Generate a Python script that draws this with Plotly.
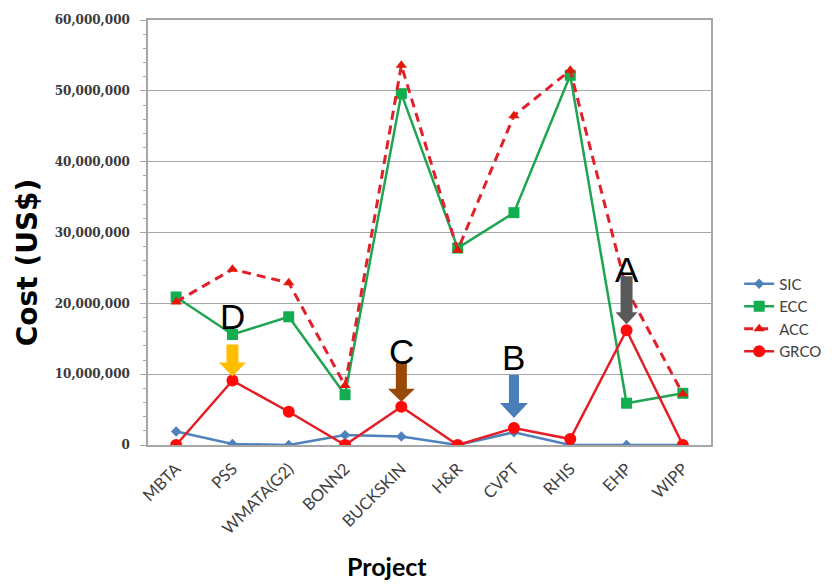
import plotly.graph_objects as go

# Project cost comparison
projects = ["MBTA", "PSS", "WMATA(G2)", "BONN2", "BUCKSKIN", "H&R", "CVPT", "RHIS", "EHP", "WIPP"]
sic = [1900000, 150000, 0, 1400000, 1200000, 0, 1800000, 0, 0, 0]
ecc = [20900000, 15600000, 18100000, 7100000, 49600000, 27800000, 32800000, 52200000, 5900000, 7300000]
acc = [20200000, 24800000, 22900000, 8400000, 53600000, 27500000, 46500000, 52900000, 22000000, 7200000]
grco = [0, 9100000, 4700000, 0, 5400000, 0, 2400000, 850000, 16200000, 0]

# Highlighted projects: (label, project, arrow colour)
callouts = [
    ("D", "PSS", "#FFBF00"),
    ("C", "BUCKSKIN", "#984807"),
    ("B", "CVPT", "#4A7EBB"),
    ("A", "EHP", "#595959"),
]
# arrow geometry in pixels above the GRCO point: tip, head base, shaft top, shaft half-width, head half-width
arrow_geom = {
    "D": (4, 18, 36, 6, 13.5),
    "C": (5, 18, 44, 5.5, 13.5),
    "B": (10, 25, 53, 5, 14),
    "A": (6, 18, 54, 6, 11),
}
label_shift = {"D": 64, "C": 55, "B": 71, "A": 61}

fig = go.Figure()
fig.add_trace(go.Scatter(
    x=projects, y=sic, name="SIC", mode="lines+markers",
    line=dict(color="#4F81BD", width=2.5),
    marker=dict(symbol="diamond", size=8, color="#4F81BD"),
))
fig.add_trace(go.Scatter(
    x=projects, y=ecc, name="ECC", mode="lines+markers",
    line=dict(color="#1FA552", width=2.5),
    marker=dict(symbol="square", size=11, color="#12AD4E"),
))
fig.add_trace(go.Scatter(
    x=projects, y=acc, name="ACC", mode="lines+markers",
    line=dict(color="#E0202A", width=3, dash="9px,6px"),
    marker=dict(symbol="triangle-up", size=10, color="#E3170A"),
))
fig.add_trace(go.Scatter(
    x=projects, y=grco, name="GRCO", mode="lines+markers",
    line=dict(color="#E41E26", width=2.5),
    marker=dict(symbol="circle", size=12, color="#FF0A0A"),
))

shapes = []
annotations = []
for label, proj, color in callouts:
    val = grco[projects.index(proj)]
    tip, base, top, sw, hw = arrow_geom[label]
    path = (f"M{-sw},{top} L{sw},{top} L{sw},{base} L{hw},{base} "
            f"L0,{tip} L{-hw},{base} L{-sw},{base} Z")
    shapes.append(dict(
        type="path", xref="x", yref="y", xsizemode="pixel", ysizemode="pixel",
        xanchor=proj, yanchor=val, path=path,
        fillcolor=color, line=dict(width=0), layer="above",
    ))
    annotations.append(dict(
        x=proj, y=val, xref="x", yref="y", text=label, showarrow=False,
        yshift=label_shift[label], yanchor="middle",
        font=dict(family="Liberation Sans, Arial, sans-serif", size=35, color="#000000"),
    ))

annotations.append(dict(
    x=-0.215, y=0.43, xref="paper", yref="paper", text="<b>Cost (US$)</b>",
    textangle=-90, showarrow=False, xanchor="center", yanchor="middle",
    font=dict(family="DejaVu Sans", size=28, color="#000000"),
))
annotations.append(dict(
    x=0.425, y=-0.285, xref="paper", yref="paper", text="<b>Project</b>",
    showarrow=False, xanchor="center", yanchor="middle",
    font=dict(family="Lato", size=25, color="#000000"),
))

fig.update_layout(
    width=839, height=585,
    margin=dict(l=148, r=121, t=20, b=140),
    paper_bgcolor="white", plot_bgcolor="white",
    shapes=shapes, annotations=annotations,
    showlegend=True,
    legend=dict(
        x=1.05, y=0.30, xanchor="left", yanchor="middle",
        font=dict(family="Lato", size=15, color="#404040"),
        bgcolor="rgba(0,0,0,0)", tracegroupgap=0,
    ),
    xaxis=dict(
        type="category", range=[-0.5, 9.5], tickangle=-45, showgrid=False,
        showline=True, linecolor="#A6A6A6", linewidth=1.5, mirror=True,
        ticks="", ticklabelstandoff=6,
        tickfont=dict(family="Lato", size=16.5, color="#404040"),
        zeroline=False,
    ),
    yaxis=dict(
        range=[0, 60000000], dtick=10000000, tickformat=",d",
        showgrid=True, gridcolor="#A6A6A6", gridwidth=1,
        showline=True, linecolor="#A6A6A6", linewidth=1.5, mirror=True,
        ticks="outside", ticklen=6, tickcolor="#A6A6A6", ticklabelstandoff=8,
        minor=dict(dtick=2000000, ticks="outside", ticklen=3, tickcolor="#A6A6A6", showgrid=False),
        tickfont=dict(family="DejaVu Serif", size=12, color="#3A3A3A", weight="bold"),
        zeroline=False,
    ),
)

fig.write_html("out.html")
